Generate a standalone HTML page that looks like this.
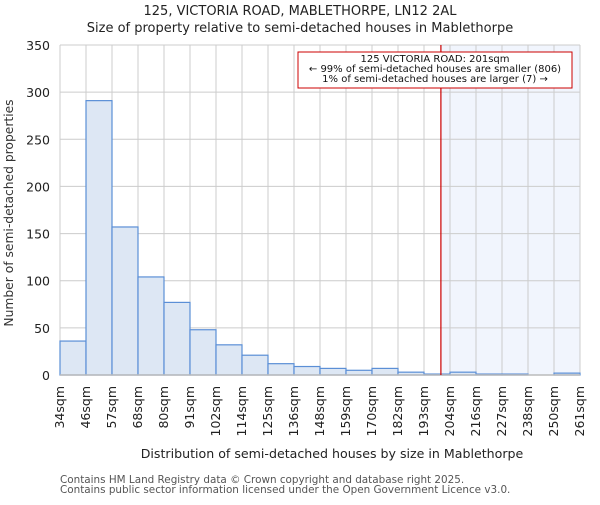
<!DOCTYPE html>
<html><head><meta charset="utf-8"><style>
body{margin:0;background:#fff;}
svg text{font-family:"DejaVu Sans","Liberation Sans",sans-serif;}
</style></head><body>
<svg width="600" height="500" viewBox="0 0 600 500" xmlns="http://www.w3.org/2000/svg">
<text x="300" y="15" text-anchor="middle" font-size="13" fill="#222">125, VICTORIA ROAD, MABLETHORPE, LN12 2AL</text>
<text x="300" y="32" text-anchor="middle" font-size="13" fill="#222">Size of property relative to semi-detached houses in Mablethorpe</text>
<g id="plot"></g>
<text transform="translate(13,213) rotate(-90)" text-anchor="middle" font-size="12.3" fill="#333">Number of semi-detached properties</text>
<text x="332" y="458" text-anchor="middle" font-size="12.6" fill="#222">Distribution of semi-detached houses by size in Mablethorpe</text>
<text x="60" y="483" font-size="10.4" fill="#555">Contains HM Land Registry data © Crown copyright and database right 2025.</text>
<text x="60" y="493" font-size="10.4" fill="#555">Contains public sector information licensed under the Open Government Licence v3.0.</text>
</svg>
<script>
const binLabels=["34sqm","46sqm","57sqm","68sqm","80sqm","91sqm","102sqm","114sqm","125sqm","136sqm","148sqm","159sqm","170sqm","182sqm","193sqm","204sqm","216sqm","227sqm","238sqm","250sqm","261sqm"];
const counts=[36,291,157,104,77,48,32,21,12,9,7,5,7,3,1,3,1,1,0,2];
const yTicks=[0,50,100,150,200,250,300,350];
const markerIndex=14.65;
const NS="http://www.w3.org/2000/svg";
const L=60,R=580,T=45,B=375,yMax=350;
const bw=(R-L)/counts.length;
const xs=i=>L+i*bw;
const ys=v=>B-(v/yMax)*(B-T);
const g=document.getElementById('plot');
function mk(t,a){const e=document.createElementNS(NS,t);for(const k in a)e.setAttribute(k,a[k]);g.appendChild(e);return e;}
let e=mk('rect',{x:xs(markerIndex),y:T,width:R-xs(markerIndex),height:B-T,fill:"#f1f5fd"});


yTicks.forEach(v=>{
 let l=mk('line',{x1:L,x2:R,y1:ys(v),y2:ys(v),stroke:"#ccc","stroke-width":1});
 
 
 let t=mk('text',{x:L-10,y:ys(v)+5,"text-anchor":"end","font-size":"12.5",fill:"#222"});
 t.textContent=v;
 
 
});
binLabels.forEach((s,i)=>{
 let l=mk('line',{x1:xs(i),x2:xs(i),y1:T,y2:B,stroke:"#ccc","stroke-width":1});
 
 
 let t=mk('text',{transform:`translate(${xs(i)+4},386) rotate(-90)`,"text-anchor":"end","font-size":"12.5",fill:"#222"});
 t.textContent=s;
 
 
});
counts.forEach((c,i)=>{
 if(c<=0)return;
 let r=mk('rect',{x:xs(i),y:ys(c),width:bw,height:B-ys(c),fill:"#dde7f4",stroke:"#5b8fd6","stroke-width":1.2});
 
 
});
let ax=mk('line',{x1:L,x2:R,y1:B,y2:B,stroke:"#bbb","stroke-width":1.5});


let rl=mk('line',{x1:xs(markerIndex),x2:xs(markerIndex),y1:T,y2:B,stroke:"#cc0000","stroke-width":1.2});


let bx=mk('rect',{x:298,y:52,width:274,height:36,fill:"#fff",stroke:"#cc0000","stroke-width":1});


["125 VICTORIA ROAD: 201sqm","← 99% of semi-detached houses are smaller (806)","1% of semi-detached houses are larger (7) →"].forEach((s,i)=>{
 let t=mk('text',{x:435,y:62+i*10,"text-anchor":"middle","font-size":"10",fill:"#111"});
 t.textContent=s;
 
 
});
</script>
</body></html>
